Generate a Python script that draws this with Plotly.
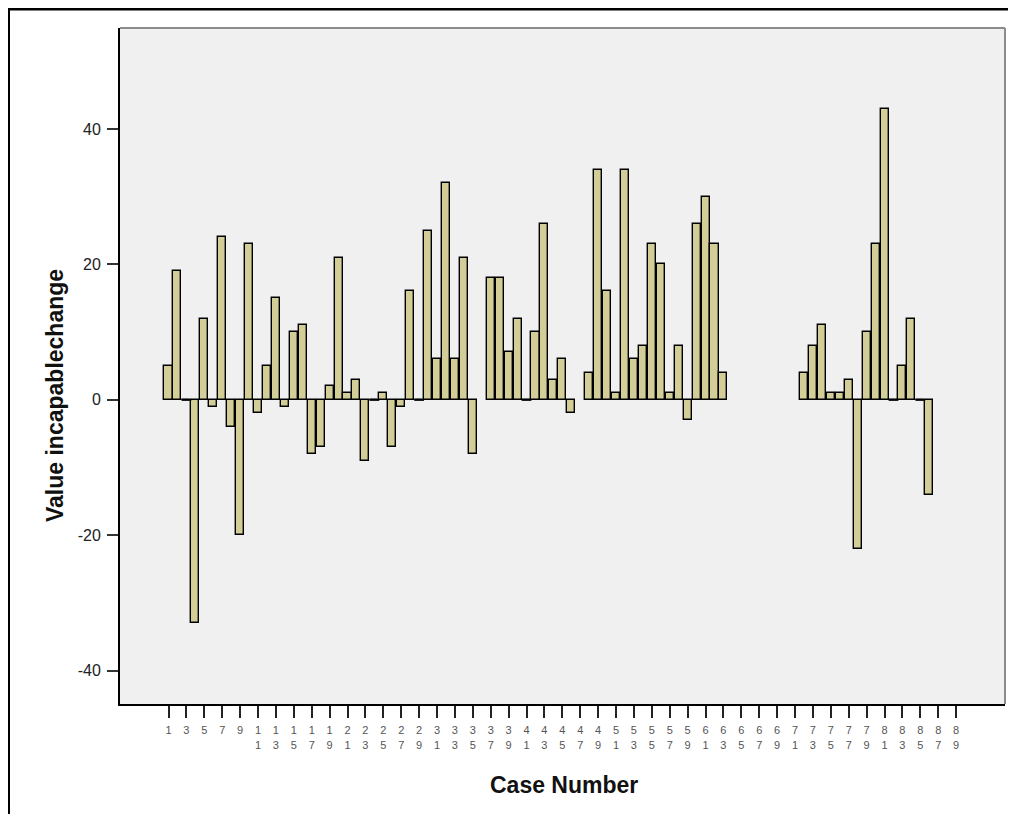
import plotly.graph_objects as go

# Case numbers 1..89
cases = list(range(1, 90))

# Value incapablechange per case (None = missing)
values = [
    5, 19, 0, -33, 12, -1, 24, -4, -20, 23,          # 1-10
    -2, 5, 15, -1, 10, 11, -8, -7, 2, 21,             # 11-20
    1, 3, -9, 0, 1, -7, -1, 16, 0, 25,                # 21-30
    6, 32, 6, 21, -8, None, 18, 18, 7, 12,            # 31-40
    0, 10, 26, 3, 6, -2, None, 4, 34, 16,             # 41-50
    1, 34, 6, 8, 23, 20, 1, 8, -3, 26,                # 51-60
    30, 23, 4, None, None, None, None, None, None, None,  # 61-70
    None, 4, 8, 11, 1, 1, 3, -22, 10, 23,             # 71-80
    43, 0, 5, 12, 0, -14, None, None, None,           # 81-89
]

x_tick_vals = list(range(1, 90, 2))
# SPSS stacks the digits of each case number vertically
x_tick_text = ["<br>".join(str(v)) for v in x_tick_vals]
y_tick_vals = [-40, -20, 0, 20, 40]
y_tick_text = ["-40", "-20", "0", "20", "40"]

zero_x = [c for c, v in zip(cases, values) if v == 0]
zero_y = [0 for _ in zero_x]

# page body has an 8px margin; figure sized/offset to compensate
W, H = 1008, 806
L, R, T, B = 112, 11, 20, 110
PW, PH = W - L - R, H - T - B
XR = [-4.42, 94.46]

fig = go.Figure()
fig.add_trace(go.Bar(
    x=cases, y=values, width=0.9,
    marker=dict(color="#D3CE97", line=dict(color="#000000", width=1.4)),
    showlegend=False,
))
# zero-valued cases drawn as short dashes
fig.add_trace(go.Scatter(
    x=zero_x, y=zero_y, mode="markers",
    marker=dict(symbol="line-ew", size=7, line=dict(color="#000000", width=2)),
    showlegend=False, hoverinfo="skip",
))

fig.update_layout(
    width=W, height=H,
    margin=dict(l=L, r=R, t=T, b=B),
    paper_bgcolor="#FFFFFF",
    plot_bgcolor="#F0F0F0",
    font=dict(family="Arial, Liberation Sans, sans-serif", color="#222222"),
    bargap=0,
    xaxis=dict(
        range=XR,
        tickmode="array", tickvals=x_tick_vals, ticktext=x_tick_text,
        ticks="outside", ticklen=12, tickwidth=2, tickcolor="#222222",
        tickfont=dict(size=11, color="#555555"), ticklabelstandoff=3,
        showline=True, linecolor="#000000", linewidth=2,
        showgrid=False, zeroline=False, fixedrange=True,
    ),
    yaxis=dict(
        range=[-44.9, 54.9],
        tickmode="array", tickvals=y_tick_vals, ticktext=y_tick_text,
        ticks="outside", ticklen=11, tickwidth=2, tickcolor="#333333",
        tickfont=dict(size=16, color="#222222"), ticklabelstandoff=3,
        showline=True, linecolor="#000000", linewidth=2,
        showgrid=False, zeroline=False, fixedrange=True,
    ),
    shapes=[
        # gray border top/right of plot area
        dict(type="line", xref="paper", yref="paper", x0=0, x1=1, y0=1, y1=1,
             line=dict(color="#8C8C8C", width=2)),
        dict(type="line", xref="paper", yref="paper", x0=1, x1=1, y0=0, y1=1,
             line=dict(color="#8C8C8C", width=2)),
        # outer frame (top and left edges)
        dict(type="line", xref="paper", yref="paper",
             x0=-L / PW, x1=1.05, y0=1 + T / PH, y1=1 + T / PH,
             line=dict(color="#000000", width=5)),
        dict(type="line", xref="paper", yref="paper",
             x0=-L / PW, x1=-L / PW, y0=1 + T / PH, y1=-0.3,
             line=dict(color="#000000", width=4)),
    ],
    annotations=[
        dict(text="<b>Value incapablechange</b>", xref="paper", yref="paper",
             x=-(112 - 47) / PW, y=(696 - 388) / PH, textangle=-90, showarrow=False,
             font=dict(size=23, color="#111111"), xanchor="center", yanchor="middle"),
        dict(text="<b>Case Number</b>", xref="paper", yref="paper",
             x=(556 - 112) / PW, y=-(777 - 696) / PH, showarrow=False,
             font=dict(size=23, color="#111111"), xanchor="center", yanchor="middle"),
    ],
)

fig.write_html("out.html")
